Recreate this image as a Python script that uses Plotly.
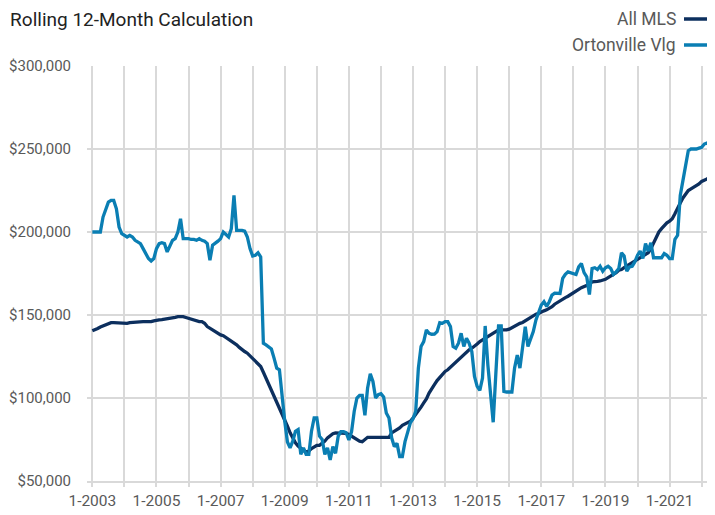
import plotly.graph_objects as go

# Monthly data, 1-2003 .. 6-2022, values in $ thousands
years = list(range(2003, 2023))
months = [f"{m}-{y}" for y in years for m in range(1, 13)][:234]

all_mls_k = [
    140.5, 141, 141.9, 142.8, 143.5, 144, 145, 145.4, 145.4, 145.3, 145.4, 145,
    145, 145, 145.4, 145.6, 145.7, 146, 146, 146, 146, 146, 146, 146.5,
    147, 147, 147.2, 147.4, 147.6, 148, 148.3, 148.6, 149, 149, 149, 148.5,
    148, 147, 146.5, 146, 146, 146, 145, 143, 142, 141, 139.5, 138.5,
    138, 137.5, 136.5, 135.5, 134.5, 133.5, 132, 130.5, 129, 128, 127, 125.5,
    124, 122.5, 121, 119, 115.5, 112, 108.5, 105, 101, 97.5, 94, 90,
    86.5, 83, 79, 75.5, 73, 71, 69.5, 68.5, 67.5, 68, 69.5, 70.5,
    71.5, 71.5, 72.5, 74, 76, 77.5, 78.5, 79, 79, 79, 79, 78.7,
    78, 77, 76, 75, 74, 73.7, 75, 76.3, 76.3, 76.3, 76.3, 76.3,
    76.3, 76.3, 76.3, 76.3, 79, 80, 80.5, 82, 83.5, 84.5, 85, 86,
    88, 90, 92.5, 94.5, 97, 99.5, 103, 106, 108, 110.5, 112.5, 114.5,
    116, 117, 118.5, 120, 122, 123.5, 125, 126.5, 128, 129, 130, 131,
    132.5, 134, 135, 136.5, 137.5, 138.5, 139, 140, 141, 141, 141, 141,
    141.5, 142.5, 143.5, 144.5, 145, 145.5, 146.5, 147.5, 149, 150, 150.5, 151,
    151.5, 152.5, 153.1, 154, 155, 156.5, 157.5, 159, 159.5, 160.5, 161.3, 162.5,
    163.3, 164.5, 165.5, 166.5, 167, 167.5, 168.5, 170, 170, 170.3, 170.5, 170.8,
    171.5, 172.5, 173.5, 174.4, 175.5, 177, 177.4, 178.5, 179.5, 180.5, 181.5, 182.5,
    183.5, 185, 185.5, 186.5, 187.5, 190, 193.5, 197, 200, 202, 204, 205.5,
    206.5, 208, 211, 214.7, 217.5, 220.5, 223, 225, 226, 227, 227.8, 229,
    230.5, 231, 231.9, 233.5, 235, 236.9,
]

ortonville_k = [
    200, 200, 200, 200, 209, 213, 218, 219, 219, 214, 203, 199,
    198, 197, 198, 197, 195, 194, 193, 190, 187, 184, 182.5, 184,
    190, 193, 193.5, 193, 188, 192, 195, 196, 200, 208, 196, 196,
    196, 195.5, 195.5, 195, 196, 195, 194.5, 193, 183, 192, 193, 194.5,
    196, 200, 198.5, 197, 202, 222, 201, 201, 201, 200.5, 197, 190,
    185.5, 186, 187.5, 185, 133, 132, 131, 129.5, 124, 118, 117, 100,
    86, 73.5, 70, 74, 80, 81, 66, 70, 66, 66, 80, 88,
    88, 77, 75, 66, 70, 62.7, 70.7, 66.7, 77, 79.7, 79.7, 79,
    74.7, 79.7, 92, 100, 101.6, 101.6, 89.6, 106, 114.5, 110, 100, 102,
    102.6, 100.6, 91, 88, 76, 70.7, 72.7, 64.7, 64.7, 73.7, 80, 85,
    87.5, 92, 118, 131, 134, 141, 139, 138.4, 138.5, 140, 145.4, 145,
    146, 146, 143, 131, 130, 133, 139, 131, 136, 133, 128, 113,
    107, 104.6, 112, 143.4, 120, 104, 85.4, 115, 143.4, 143.4, 104, 103.6,
    103.6, 103.6, 118, 125.9, 118, 130, 143, 131, 135, 140, 147, 152,
    156, 158, 155.2, 158, 162, 163.2, 163.2, 163, 172, 174.5, 176, 175.4,
    175, 174.4, 179, 181, 175.5, 173, 162.3, 178, 178.5, 177.4, 179.4, 176.4,
    178.5, 179.4, 178, 174.4, 176, 178, 187.5, 185.5, 176.4, 179, 179.4, 182,
    186, 188.5, 184, 193, 188.5, 193.5, 184.5, 184.5, 184.5, 184.5, 187, 186,
    184, 184, 195.6, 198, 222, 230, 240, 249, 250, 250, 250, 250.5,
    251, 253, 253.6, 252, 252.5, 254.4,
]

series_names = ["All MLS", "Ortonville Vlg"]
series_colors = ["#0c2f5e", "#0a7eb3"]

y_ticks = [50000, 100000, 150000, 200000, 250000, 300000]
x_tickvals = [f"1-{y}" for y in range(2003, 2023)]
x_ticktext = [f"1-{y}" if (y - 2003) % 2 == 0 else "" for y in range(2003, 2023)]

FONT = "Roboto, Liberation Sans Narrow, sans-serif"

# page has an 8px body margin, so the figure is sized to fit the window
W, H = 707, 507
L, T, B, R = 79, 58, 34, 0

fig = go.Figure()
for name, vals, col in zip(series_names, [all_mls_k, ortonville_k], series_colors):
    fig.add_trace(go.Scatter(
        x=months, y=[v * 1000 for v in vals], mode="lines", name=name,
        line=dict(color=col, width=3.3), showlegend=False,
    ))

fig.update_layout(
    width=W, height=H,
    margin=dict(l=L, r=R, t=T, b=B, autoexpand=False),
    paper_bgcolor="white", plot_bgcolor="white",
    font=dict(family=FONT, color="#595959", size=15),
    title=dict(text="Rolling 12-Month Calculation", x=0.003, xanchor="left", xref="container",
               y=0.99, yanchor="top", yref="container", pad=dict(t=0, l=0),
               font=dict(family=FONT, size=19, color="#222222")),
)
fig.update_xaxes(
    type="category", range=[-2, 233], automargin=False,
    tickvals=x_tickvals, ticktext=x_ticktext,
    showgrid=True, gridcolor="#d9d9d9", gridwidth=2,
    ticks="outside", ticklen=4, tickwidth=2, tickcolor="#d9d9d9",
    showline=True, linecolor="#d9d9d9", linewidth=2,
    tickfont=dict(size=15.5, color="#595959"),
)
fig.update_yaxes(
    range=[50000, 300000], tickvals=y_ticks, tickformat="$,.0f", automargin=False,
    showgrid=True, gridcolor="#d9d9d9", gridwidth=2, zeroline=False,
    ticklabelstandoff=15, tickfont=dict(size=15, color="#595959"),
)

# Legend (text followed by line sample, right-aligned), in paper coordinates
plot_h = H - T - B
plot_w = W - L - R
leg_y = [(H - B - 11) / plot_h, (H - B - 37) / plot_h]
text_x = (670 - L) / plot_w
line_x0 = (676 - L) / plot_w
for name, col, yy in zip(series_names, series_colors, leg_y):
    fig.add_annotation(xref="paper", yref="paper", x=text_x, y=yy,
                       text=name, showarrow=False, xanchor="right", yanchor="middle",
                       font=dict(family=FONT, size=17.5, color="#595959"))
    fig.add_shape(type="line", xref="paper", yref="paper", x0=line_x0, x1=1.0,
                  y0=yy, y1=yy, line=dict(color=col, width=3.5))

fig.write_html("out.html")
